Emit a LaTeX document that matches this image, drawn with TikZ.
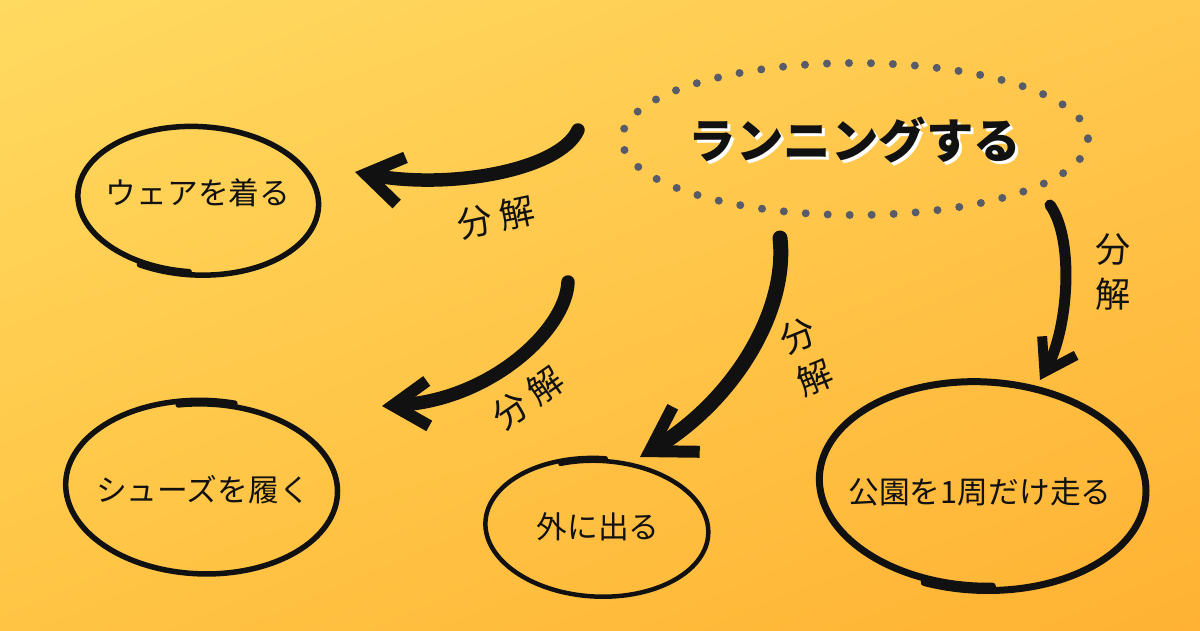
\documentclass[tikz,border=0pt]{standalone}
\usepackage{fontspec}
\newfontfamily\jp{Noto Sans CJK JP}
\usetikzlibrary{arrows.meta,shapes.geometric,shadings}
\definecolor{bgTL}{HTML}{FFDA60}
\definecolor{bgTR}{HTML}{FFC84E}
\definecolor{bgBL}{HTML}{FFC444}
\definecolor{bgBR}{HTML}{FFB233}
\definecolor{dotcol}{HTML}{585C68}
\definecolor{ink}{HTML}{111111}
\newcommand{\handell}[7]{%
  \draw[hand,line width=#7, rotate around={#6:(#1,#2)}]
    plot[domain=0:384, samples=150, smooth, variable=\t]
    ({#1+#3*(1+0.045*\t/384)*cos(\t+#5)}, {#2+#4*(1+0.045*\t/384)*sin(\t+#5)});}
\tikzset{
  hand/.style={draw=ink, line cap=round, line join=round},
  task/.style={ellipse, inner sep=0pt, font=\jp\fontsize{17.5}{20}\selectfont, text=ink},
  bigarrow/.style={draw=ink, line width=0.27cm, line cap=round},
  lbl/.style={inner sep=0pt, font=\jp\fontsize{20}{26}\selectfont, text=ink, align=center},
}
\begin{document}
\begin{tikzpicture}[x=0.02cm,y=-0.02cm]
\useasboundingbox (0,0) rectangle (1200,630);
\shade[upper left=bgTL, upper right=bgTR, lower left=bgBL, lower right=bgBR] (0,0) rectangle (1200,630);

% main node
\draw[dotcol, line width=0.16cm, line cap=round, dash pattern=on 0pt off 0.44cm] (855,139) ellipse [x radius=233, y radius=76];
\node[inner sep=0pt, font=\jp\bfseries\fontsize{27}{30}\selectfont, text=white] at (858,143) {ランニングする};
\node[inner sep=0pt, font=\jp\bfseries\fontsize{27}{30}\selectfont, text=ink] (main) at (855,140) {ランニングする};

% task nodes
\node[task] (e1) at (198,193) {ウェアを着る};
\node[task] (e2) at (203,490) {シューズを履く};
\node[task] (e3) at (598,527) {外に出る};
\node[task] (e4) at (980,492) {公園を1周だけ走る};

\handell{197}{200}{118}{72}{92}{-3}{0.11cm}
\handell{203}{488}{133}{84}{258}{-2}{0.11cm}
\handell{598}{528}{109}{67}{248}{-3}{0.09cm}
\handell{981}{485}{160}{101}{84}{-3}{0.14cm}

% arrow start/end points
\coordinate (s1) at (578,130);
\coordinate (t1) at (355,172);
\coordinate (s2) at (568,282);
\coordinate (t2) at (382,406);
\coordinate (s3) at (780,238);
\coordinate (t3) at (640,457);
\coordinate (s4) at (1050,205);
\coordinate (t4) at (1040,380);

\draw[bigarrow, -{Straight Barb[length=0.72cm, width=0.95cm, line width=0.24cm]}]
  (s1) .. controls (560,170) and (450,190) .. (t1);
\draw[bigarrow, -{Straight Barb[length=0.7cm, width=0.9cm, line width=0.24cm]}]
  (s2) .. controls (566,330) and (490,400) .. (t2);
\draw[bigarrow, line width=0.3cm, -{Straight Barb[length=0.85cm, width=1.05cm, line width=0.24cm]}]
  (s3) .. controls (788,310) and (735,400) .. (t3);
\draw[bigarrow, line width=0.22cm, -{Straight Barb[length=0.6cm, width=0.78cm, line width=0.2cm]}]
  (s4) .. controls (1075,240) and (1068,330) .. (t4);

% labels
\node[lbl, rotate=12] (l1) at (496,217) {分\hspace{4pt}解};
\node[lbl, rotate=35] (l2) at (528,398) {分\hspace{4pt}解};
\node[lbl, rotate=22] (l3) at (806,357) {分\\解};
\node[lbl] (l4) at (1113,272) {分\\解};
\end{tikzpicture}
\end{document}
